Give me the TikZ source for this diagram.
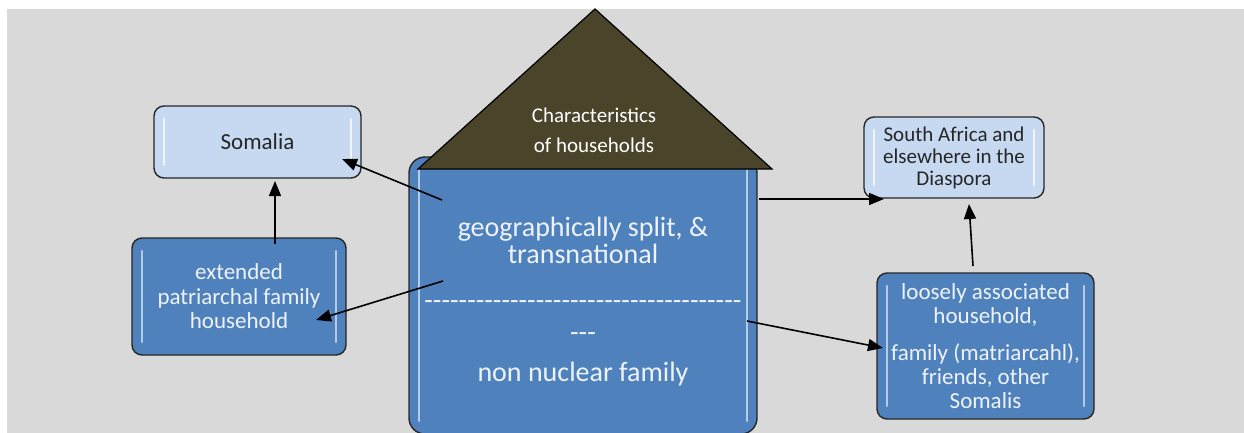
\documentclass[tikz,border=0pt]{standalone}
\usepackage{fontspec}
\setmainfont{Carlito}[Ligatures=TeXOff]
\usetikzlibrary{arrows.meta}
\definecolor{bggray}{HTML}{D9D9D9}
\definecolor{paleblue}{HTML}{C6D9F1}
\definecolor{midblue}{HTML}{4F81BD}
\definecolor{roofbrown}{HTML}{4A452A}
\definecolor{softwhite}{HTML}{EEF3FA}

\begin{document}
\begin{tikzpicture}[x=1pt,y=-1pt,
  gloss/.style={path picture={
    \draw[#1,line width=2.4pt,line cap=round,opacity=.75]
      ([xshift=10pt,yshift=-13pt]path picture bounding box.north west) -- ([xshift=10pt,yshift=13pt]path picture bounding box.south west);
    \draw[#1,line width=2.4pt,line cap=round,opacity=.75]
      ([xshift=-10pt,yshift=-13pt]path picture bounding box.north east) -- ([xshift=-10pt,yshift=13pt]path picture bounding box.south east);}},
  box/.style={draw=black!85, line width=1.4pt, rounded corners=10pt, inner sep=0pt, align=center},
  pale/.style={box, fill=paleblue, text=black!85, gloss=white},
  dark/.style={box, fill=midblue, text=softwhite, gloss=paleblue!70!white},
  link/.style={-{Triangle[length=15pt,width=12pt]}, line width=1.6pt}]

  \useasboundingbox (0,0) rectangle (1244,433);
  \fill[white] (0,0) rectangle (1244,433);
  \fill[bggray] (7,9) rectangle (1244,433);

  \node[pale, minimum width=207pt, minimum height=72pt, font=\fontsize{23}{24}\selectfont] (somalia) at (257.5,142) {Somalia};
  \node[dark, minimum width=214pt, minimum height=117pt, font=\fontsize{23}{24.5}\selectfont] (extended) at (239,296.5)
    {extended\\patriarchal family\\household};
  \node[pale, minimum width=180pt, minimum height=81pt, font=\fontsize{21}{22}\selectfont] (diaspora) at (954,157.5)
    {South Africa and\\elsewhere in the\\Diaspora};
  \node[dark, minimum width=217pt, minimum height=146pt, font=\fontsize{23}{24}\selectfont] (loosely) at (985.5,346)
    {loosely associated\\household,\\[13pt]family (matriarcahl),\\friends, other\\Somalis};

  \node[dark, rounded corners=16pt, minimum width=348pt, minimum height=277pt] (house) at (583,295.5) {};
  \node[text=softwhite, align=center, inner sep=0pt, font=\fontsize{28}{27}\selectfont] (housetext) at (583,302)
    {geographically split, \&\\transnational\\[19pt]-------------------------------------\\[5pt]---\\[13pt]non nuclear family};

  \coordinate (eaveL) at (418,169);
  \coordinate (ridge) at (595,9);
  \coordinate (eaveR) at (772,169);
  \filldraw[fill=roofbrown, draw=black, line width=1.2pt] (eaveL) -- (ridge) -- (eaveR) -- cycle;
  \node[text=white, align=center, inner sep=0pt, font=\fontsize{21}{30}\selectfont] (rooftext) at (594,130)
    {Characteristics\\of households};

  \coordinate (s1) at (442,200); \coordinate (t1) at (342,159);
  \coordinate (s2) at (443,281); \coordinate (t2) at (316,320);
  \coordinate (s3) at (275,244); \coordinate (t3) at (275,181);
  \coordinate (s4) at (759,199); \coordinate (t4) at (884,199);
  \coordinate (s5) at (747,321); \coordinate (t5) at (883,348);
  \coordinate (s6) at (973,266); \coordinate (t6) at (969,204);
  \draw[link] (s1) -- (t1);
  \draw[link] (s2) -- (t2);
  \draw[link] (s3) -- (t3);
  \draw[link] (s4) -- (t4);
  \draw[link] (s5) -- (t5);
  \draw[link] (s6) -- (t6);
\end{tikzpicture}
\end{document}
